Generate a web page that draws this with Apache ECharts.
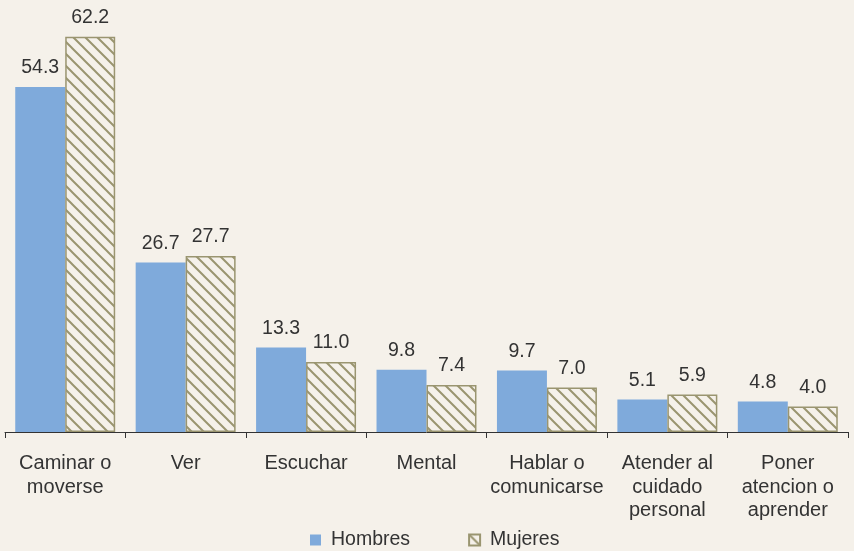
<!DOCTYPE html>
<html>
<head>
<meta charset="utf-8">
<script src="https://cdn.jsdelivr.net/npm/echarts@6/dist/echarts.min.js"></script>
<style>
  html, body { margin: 0; padding: 0; background: #f5f1ea; }
  #chart { width: 854px; height: 551px; }
</style>
</head>
<body>
<div id="chart"></div>
<script>
// categorias y valores (porcentaje)
const categories = [
  "Caminar o\nmoverse",
  "Ver",
  "Escuchar",
  "Mental",
  "Hablar o\ncomunicarse",
  "Atender al\ncuidado\npersonal",
  "Poner\natencion o\naprender"
];
const hombres = [54.3, 26.7, 13.3, 9.8, 9.7, 5.1, 4.8];
const mujeres = [62.2, 27.7, 11.0, 7.4, 7.0, 5.9, 4.0];

// patron de rayas diagonales para Mujeres
function makeHatch() {
  const c = document.createElement("canvas");
  c.width = 12;
  c.height = 12;
  const ctx = c.getContext("2d");
  ctx.fillStyle = "#f5f1ea";
  ctx.fillRect(0, 0, 12, 12);
  ctx.strokeStyle = "#9a9570";
  ctx.lineWidth = 2;
  ctx.beginPath();
  ctx.moveTo(-3, -3); ctx.lineTo(15, 15);
  ctx.moveTo(-3, 9); ctx.lineTo(3, 15);
  ctx.moveTo(9, -3); ctx.lineTo(15, 3);
  ctx.stroke();
  return c;
}
const hatch = { image: makeHatch(), repeat: "repeat" };

const chart = echarts.init(document.getElementById("chart"));
const font = "Liberation Sans";
const labelStyle = {
  show: true,
  position: "top",
  distance: 9,
  color: "#333",
  fontSize: 19.5,
  fontFamily: font,
  formatter: (p) => p.value.toFixed(1)
};

chart.setOption({
  backgroundColor: "#f5f1ea",
  animation: false,
  grid: { left: 5, right: 6, top: 0, bottom: 119, containLabel: false },
  legend: {
    top: 525,
    left: 305,
    itemWidth: 11,
    itemHeight: 11,
    itemGap: 58,
    textStyle: { color: "#333", fontSize: 19.5, fontFamily: font, padding: [0, 0, 0, 5] },
    data: [
      { name: "Hombres", icon: "rect" },
      { name: "Mujeres", icon: "rect" }
    ]
  },
  xAxis: {
    type: "category",
    data: categories,
    axisLine: { lineStyle: { color: "#333", width: 1 } },
    axisTick: { show: true, length: 6, lineStyle: { color: "#333" } },
    axisLabel: {
      color: "#333",
      fontSize: 20,
      fontFamily: font,
      lineHeight: 23.5,
      margin: 20,
      interval: 0
    }
  },
  yAxis: {
    type: "value",
    min: 0,
    max: 68,
    show: false,
    splitLine: { show: false }
  },
  series: [
    {
      name: "Hombres",
      type: "bar",
      data: hombres,
      barGap: "0%",
      barCategoryGap: "17%",
      itemStyle: { color: "#7faadb" },
      label: labelStyle
    },
    {
      name: "Mujeres",
      type: "bar",
      data: mujeres,
      itemStyle: { color: hatch, borderColor: "#9a9570", borderWidth: 1.5 },
      label: labelStyle
    }
  ]
});
</script>
</body>
</html>
